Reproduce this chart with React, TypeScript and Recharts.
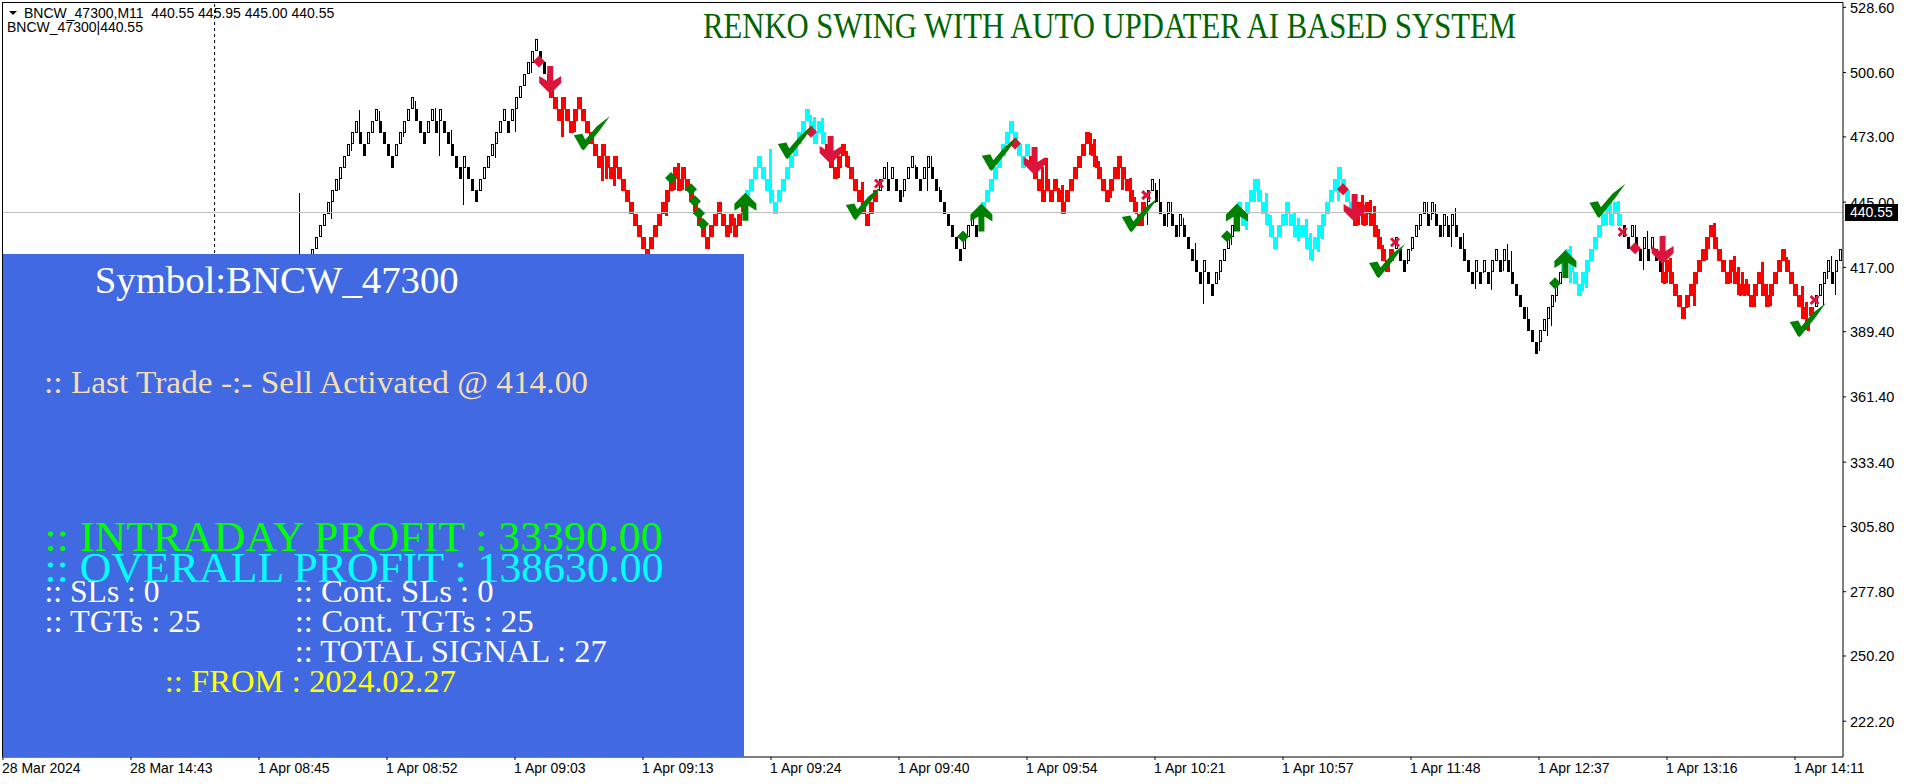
import { Bar, ComposedChart, ReferenceLine, Scatter, XAxis, YAxis } from 'recharts';

// brick closes (top of each 5-point renko brick), read leg by leg, left to right
const firstBrick = 74;
const blackLeg1 = [410, 415, 420, 425, 430, 435, 440, 445, 450, 455, 460, 465, 470, 475, 480, 475, 470, 475, 480, 485, 480, 475, 470, 465, 470, 475, 480, 485, 490, 485, 480, 475, 480, 485, 480, 485, 480, 475, 470, 465, 460, 465, 460, 455, 450, 455, 460, 465, 470, 475, 480, 485, 480, 485, 490, 495, 500, 505, 510, 515, 510, 505, 500];
const redLeg1 = [495, 490, 485, 490, 485, 480, 485, 490, 485, 480, 475, 470, 465, 470, 465, 460, 465, 460, 455, 450, 445, 440, 435, 430, 425, 430, 435, 440, 445, 450, 455, 460, 455, 460, 455, 450, 445, 440, 435, 430, 435, 440, 445, 440, 435, 440, 435, 440, 445];
const cyanLeg1 = [450, 455, 460, 465, 460, 455, 450, 445, 450, 455, 460, 465, 470, 475, 480, 485, 480, 475, 480, 475];
const redLeg2 = [470, 465, 460, 465, 470, 465, 460, 455, 450, 445, 440, 445, 450];
const blackLeg2 = [455, 460, 455, 460, 455, 450, 455, 460, 465, 460, 455, 460, 465, 460, 455, 450, 445, 440, 435, 430, 425, 430, 435, 440, 435, 440];
const cyanLeg2 = [445, 450, 455, 460, 465, 470, 475, 480, 475, 470, 465, 470];
const redLeg3 = [465, 460, 455, 450, 455, 450, 455, 450, 445, 450, 455, 460, 465, 470, 475, 470, 465, 460, 455, 450, 455, 460, 465, 460, 455, 450, 445, 440, 445];
const blackLeg3 = [450, 455, 450, 445, 440, 445, 440, 435, 440, 435, 430, 425, 420, 415, 420, 415, 410, 415, 420, 425, 430, 435];
const cyanLeg3 = [440, 445, 440, 445, 450, 455, 450, 445, 440, 435, 430, 435, 440, 445, 440, 435, 435, 435, 430, 425, 430, 435, 440, 445, 450, 455, 460, 455, 450, 445];
const redLeg4 = [440, 445, 440, 445, 440, 435, 430, 425, 420, 425];
const blackLeg4 = [430, 425, 420, 425, 430, 435, 440, 445, 440, 445, 440, 435, 440, 435, 440, 435, 430, 425, 420, 415, 420, 415, 420, 415, 420, 425, 420, 425, 420, 415, 410, 405, 400, 395, 390, 385, 390, 395, 400, 405, 410, 415];
const cyanLeg4 = [420, 425, 420, 415, 410, 415, 420, 425, 430, 435, 440, 445, 440, 445, 440];
const blackLeg5 = [435, 430, 435, 430, 425, 430, 425, 430, 425, 420];
const redLeg5 = [415, 420, 415, 410, 405, 400, 405, 410, 415, 420, 425, 430, 435, 430, 425, 420, 415, 420, 415, 410, 410, 410, 405, 410, 415, 410, 405, 410, 415, 420, 425, 420, 415, 410, 405, 400, 395, 400];
const blackLeg6 = [405, 410, 415, 420, 415, 420, 425];

const legs: [string, number[]][] = [
  ['#000000', blackLeg1], ['#ff0000', redLeg1], ['#00ffff', cyanLeg1], ['#ff0000', redLeg2],
  ['#000000', blackLeg2], ['#00ffff', cyanLeg2], ['#ff0000', redLeg3], ['#000000', blackLeg3],
  ['#00ffff', cyanLeg3], ['#ff0000', redLeg4], ['#000000', blackLeg4], ['#00ffff', cyanLeg4],
  ['#000000', blackLeg5], ['#ff0000', redLeg5], ['#000000', blackLeg6],
];

// wicks beyond the brick: [bar number, price]
const wickHighs = [[89, 484.6], [94, 484], [103, 488.4], [108, 485.3], [112, 476], [169, 462], [183, 438], [192, 468], [202, 482.4], [203, 481.4], [205, 481], [211, 467], [215, 453.6], [221, 462.4], [228, 461], [232, 464.6], [234, 451.4], [260, 460], [261, 464], [264, 451], [265, 452.4], [272, 474.6], [273, 472], [274, 462.7], [282, 455.3], [283, 447], [288, 453.4], [289, 455], [292, 445], [295, 438], [298, 427.4], [314, 455], [316, 448.9], [317, 439.3], [323, 440.7], [324, 438], [326, 437.9], [327, 431.7], [340, 448], [342, 446], [343, 443.4], [344, 433.6], [345, 426.7], [356, 445], [358, 444], [361, 439], [363, 442.4], [365, 431.7], [376, 427], [377, 424], [381, 400], [392, 426], [402, 445], [404, 445.6], [408, 435.3], [411, 432.4], [415, 420], [417, 421], [428, 436], [433, 422], [434, 417], [435, 415], [436, 412], [440, 419.5], [441, 410], [446, 421.6], [450, 409], [451, 402], [457, 422], [74, 449]];
const wickLows = [[82, 437.4], [84, 450], [87, 467], [100, 473], [109, 465], [115, 444], [123, 464], [128, 475], [132, 500.6], [140, 473], [143, 475], [150, 454], [151, 455], [153, 452], [166, 439], [168, 450], [170, 450], [182, 432], [209, 455.7], [225, 447.4], [231, 450], [277, 446.7], [279, 455], [280, 450], [285, 434.6], [286, 435], [291, 434.3], [294, 430], [300, 401], [304, 411.4], [307, 426.3], [309, 435], [311, 433], [313, 445.3], [321, 435], [324, 428], [329, 423.4], [330, 429.4], [334, 445.6], [339, 435], [341, 435], [351, 418.7], [352, 423.9], [354, 433], [357, 437.4], [360, 430], [362, 426], [368, 407.7], [370, 414.6], [372, 407], [375, 415.7], [384, 381], [386, 387.4], [387, 391.7], [388, 402.4], [392, 410], [395, 406.7], [396, 408], [401, 435], [410, 416], [416, 410], [421, 399.4], [423, 400.6], [426, 420], [432, 410], [438, 400], [442, 400.5], [452, 396], [455, 401], [456, 412], [458, 405], [74, 395]];

// signal markers: [bar number, price]
const greenUpArrows = [[185.6, 443], [244.6, 438.4], [308.5, 438.4], [390.6, 418.4]];
const redDownArrows = [[136.8, 497.4], [206.9, 467.4], [257.9, 462.6], [337.9, 442.5], [414.9, 424.4]];
const checkMarks = [[147.2, 474.6], [198.2, 470.8], [215.2, 444.6], [249.2, 465.8], [284.2, 439.5], [346, 419.7], [401.1, 445.6], [451.2, 394.4]];
const greenDiamonds = [[167, 455.4], [172, 450.5], [173, 445.4], [174, 440.2], [175, 435.6], [240, 430.3], [306, 430.4], [388, 410.2]];
const redDiamonds = [[134, 505.4], [202, 475.2], [253, 470.2], [335, 450.5], [408, 425.2]];
const crossMarks = [[219, 453], [285.8, 448], [348, 427.8], [404.9, 432.2], [452.9, 403]];

const priceTicks = [528.6, 500.6, 473, 445, 417, 389.4, 361.4, 333.4, 305.8, 277.8, 250.2, 222.2];
const timeLabels = ['28 Mar 2024', '28 Mar 14:43', '1 Apr 08:45', '1 Apr 08:52', '1 Apr 09:03', '1 Apr 09:13', '1 Apr 09:24', '1 Apr 09:40', '1 Apr 09:54', '1 Apr 10:21', '1 Apr 10:57', '1 Apr 11:48', '1 Apr 12:37', '1 Apr 13:16', '1 Apr 14:11'];
const timeTicks = timeLabels.map((_, i) => i * 32);

const axisFont = '"Liberation Sans", sans-serif';
const panelFont = '"Liberation Serif", serif';

const highAt = new Map(wickHighs.map(([k, p]) => [k, p]));
const lowAt = new Map(wickLows.map(([k, p]) => [k, p]));

const rows: any[] = [];
legs.forEach(([color, tops]) => {
  tops.forEach((top) => {
    const k = firstBrick + rows.length;
    const prev = rows.length ? rows[rows.length - 1].top : top - 5;
    rows.push({
      k,
      top,
      color,
      hollow: color === '#000000' && top > prev,
      body: [top - 5, top],
      wick: [lowAt.get(k) ?? top - 5, highAt.get(k) ?? top],
    });
  });
});

const toPoints = (list: number[][]) => list.map(([k, p]) => ({ k, p }));

function BrickBody(props: any) {
  const { x, y, height, payload } = props;
  const left = Math.round(x);
  const top = Math.round(y);
  const h = Math.round(height);
  if (payload.hollow) {
    return <rect x={left + 0.5} y={top + 0.5} width={2} height={h - 1} fill="#ffffff" stroke="#000000" strokeWidth={1} shapeRendering="crispEdges" />;
  }
  return <rect x={left} y={top} width={3} height={h} fill={payload.color} stroke="none" shapeRendering="crispEdges" />;
}

function BrickWick(props: any) {
  const { x, y, height, width, payload } = props;
  const black = payload.color === '#000000';
  const left = black ? Math.round(x + width / 2) : Math.round(x);
  return <rect x={left} y={Math.round(y)} width={black ? 1 : 3} height={Math.round(height)} fill={payload.color} shapeRendering="crispEdges" />;
}

const polygonAt = (cx: number, cy: number, pts: number[][]) => pts.map(([a, b]) => `${cx + a},${cy + b}`).join(' ');

const arrowPts = [[0, -14], [11, -3], [11, 4], [3, -1], [3, 14], [-3, 14], [-3, -1], [-11, 4], [-11, -3]];
const checkPts = [[-18, 2], [-9.5, 0.5], [-6.5, 6.5], [5, -7], [18, -17], [8, -3], [-8, 17], [-10, 16]];
const diamondPts = [[0, -6], [6, 0], [0, 6], [-6, 0]];

const UpArrow = ({ cx, cy }: any) => <polygon points={polygonAt(cx, cy, arrowPts)} fill="#008000" />;
const DownArrow = ({ cx, cy }: any) => <polygon points={polygonAt(cx, cy, arrowPts.map(([a, b]) => [a, -b]))} fill="#dc143c" />;
const Check = ({ cx, cy }: any) => <polygon points={polygonAt(cx, cy, checkPts)} fill="#008000" />;
const GreenDiamond = ({ cx, cy }: any) => <polygon points={polygonAt(cx, cy, diamondPts)} fill="#008000" />;
const RedDiamond = ({ cx, cy }: any) => <polygon points={polygonAt(cx, cy, diamondPts)} fill="#dc143c" />;
const Cross = ({ cx, cy }: any) => (
  <path d={`M${cx - 4} ${cy - 4}L${cx + 4} ${cy + 4}M${cx + 4} ${cy - 4}L${cx - 4} ${cy + 4}`} stroke="#dc143c" strokeWidth={3} fill="none" />
);

function TimeTick({ x, y, payload }: any) {
  return (
    <text x={x - 1} y={y + 11} fontFamily={axisFont} fontSize={14} fill="#000000" textAnchor="start">
      {timeLabels[payload.value / 32]}
    </text>
  );
}

function PriceTick({ x, y, payload }: any) {
  return (
    <text x={x + 2} y={y + 5.5} fontFamily={axisFont} fontSize={14.5} fill="#000000" textAnchor="start">
      {payload.value.toFixed(2)}
    </text>
  );
}

function PanelText({ x, y, width, size, color, children }: any) {
  return (
    <text x={x} y={y} textLength={width} lengthAdjust="spacingAndGlyphs" fontFamily={panelFont} fontSize={size} fill={color}>
      {children}
    </text>
  );
}

export default function App() {
  return (
    <div style={{ position: 'fixed', left: 0, top: 0, width: 1907, height: 784, background: '#ffffff', overflow: 'hidden' }}>
      <ComposedChart
        width={1907}
        height={784}
        data={rows}
        margin={{ top: 2.5, right: 0, bottom: 0, left: 3 }}
      >
        <XAxis
          xAxisId="time"
          dataKey="k"
          type="number"
          domain={[0, 460]}
          ticks={timeTicks}
          interval={0}
          height={27}
          tickSize={3}
          stroke="#000000"
          tick={<TimeTick />}
        />
        <XAxis xAxisId="wicks" dataKey="k" type="number" domain={[0, 460]} hide />
        <YAxis
          yAxisId="price"
          orientation="right"
          type="number"
          domain={[206.85, 530.68]}
          ticks={priceTicks}
          interval={0}
          width={64}
          tickSize={3}
          stroke="#000000"
          tick={<PriceTick />}
        />
        <ReferenceLine xAxisId="time" yAxisId="price" x={52.9} stroke="#000000" strokeDasharray="3 3" />
        <ReferenceLine xAxisId="time" yAxisId="price" y={440.55} stroke="#c0c0c0" strokeWidth={1} />
        <Bar xAxisId="wicks" yAxisId="price" dataKey="wick" barSize={3} shape={<BrickWick />} isAnimationActive={false} />
        <Bar xAxisId="time" yAxisId="price" dataKey="body" barSize={3} shape={<BrickBody />} isAnimationActive={false} />
        <Scatter xAxisId="time" yAxisId="price" data={toPoints(greenDiamonds)} dataKey="p" shape={<GreenDiamond />} isAnimationActive={false} />
        <Scatter xAxisId="time" yAxisId="price" data={toPoints(redDiamonds)} dataKey="p" shape={<RedDiamond />} isAnimationActive={false} />
        <Scatter xAxisId="time" yAxisId="price" data={toPoints(crossMarks)} dataKey="p" shape={<Cross />} isAnimationActive={false} />
        <Scatter xAxisId="time" yAxisId="price" data={toPoints(greenUpArrows)} dataKey="p" shape={<UpArrow />} isAnimationActive={false} />
        <Scatter xAxisId="time" yAxisId="price" data={toPoints(redDownArrows)} dataKey="p" shape={<DownArrow />} isAnimationActive={false} />
        <Scatter xAxisId="time" yAxisId="price" data={toPoints(checkMarks)} dataKey="p" shape={<Check />} isAnimationActive={false} />
      </ComposedChart>

      {/* chart frame, headers, stats panel and last price tag sit on top of the plot */}
      <svg width={1907} height={784} style={{ position: 'absolute', left: 0, top: 0, pointerEvents: 'none' }}>
        <line x1={2.5} y1={2} x2={2.5} y2={757} stroke="#000000" />
        <line x1={2} y1={2.5} x2={1843} y2={2.5} stroke="#000000" />
        <polygon points="9,11 17,11 13,15" fill="#000000" />
        <text x={24} y={18} fontFamily={axisFont} fontSize={14} fill="#000000" xmlSpace="preserve">BNCW_47300,M11  440.55 445.95 445.00 440.55</text>
        <text x={7} y={32} fontFamily={axisFont} fontSize={14} fill="#000000">BNCW_47300|440.55</text>
        <text x={703} y={38} textLength={813} lengthAdjust="spacingAndGlyphs" fontFamily={panelFont} fontSize={36} fill="#006400">RENKO SWING WITH AUTO UPDATER  AI BASED SYSTEM</text>

        <rect x={3} y={254} width={741} height={503} fill="#4169e1" />
        <PanelText x={94.7} y={292.7} width={364} size={38} color="#ffffff">Symbol:BNCW_47300</PanelText>
        <PanelText x={44} y={393.3} width={544} size={32} color="#f5deb3">:: Last Trade -:- Sell Activated @ 414.00</PanelText>
        <PanelText x={44.6} y={551} width={618} size={42} color="#00ff00">:: INTRADAY PROFIT : 33390.00</PanelText>
        <PanelText x={44.6} y={581.7} width={619} size={42} color="#00ffff">:: OVERALL PROFIT : 138630.00</PanelText>
        <PanelText x={44.6} y={602.3} width={115} size={31} color="#ffffff">:: SLs : 0</PanelText>
        <PanelText x={294.7} y={602.3} width={199} size={31} color="#ffffff">:: Cont. SLs : 0</PanelText>
        <PanelText x={44.6} y={632.3} width={156} size={31} color="#ffffff">:: TGTs : 25</PanelText>
        <PanelText x={294.7} y={632.3} width={239} size={31} color="#ffffff">:: Cont. TGTs : 25</PanelText>
        <PanelText x={294.7} y={662.3} width={312} size={31} color="#ffffff">:: TOTAL SIGNAL : 27</PanelText>
        <PanelText x={164.8} y={692.3} width={291} size={31} color="#ffff00">:: FROM : 2024.02.27</PanelText>

        <rect x={1845} y={204} width={53} height={17} fill="#000000" />
        <text x={1850} y={217} fontFamily={axisFont} fontSize={14} fill="#ffffff">440.55</text>
      </svg>
    </div>
  );
}
